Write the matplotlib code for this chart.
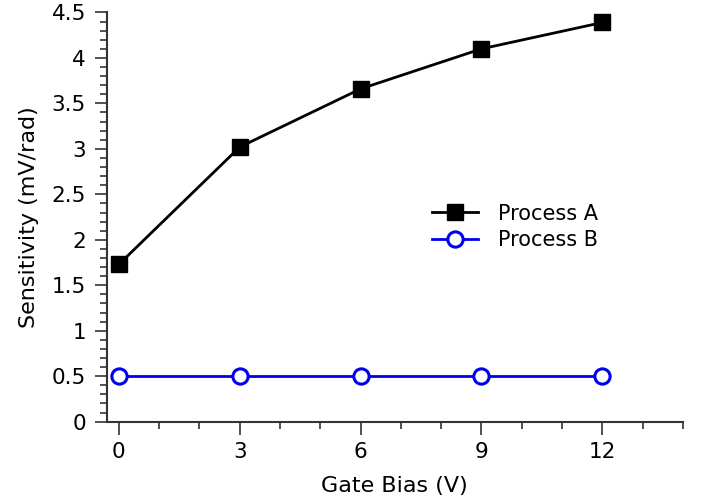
import matplotlib
matplotlib.use("Agg")
import matplotlib.pyplot as plt
from matplotlib.ticker import MultipleLocator, FormatStrFormatter

gate_bias = [0, 3, 6, 9, 12]
process_a = [1.73, 3.02, 3.66, 4.10, 4.39]
process_b = [0.5, 0.5, 0.5, 0.5, 0.5]
series_names = ["Process A", "Process B"]

fig = plt.figure(figsize=(7.07, 4.99), dpi=100)
ax = fig.add_axes([0.151, 0.155, 0.815, 0.82])

ax.plot(gate_bias, process_a, color="black", lw=2.0, marker="s", ms=11,
        mfc="black", mec="black", label=series_names[0], clip_on=False, zorder=3)
ax.plot(gate_bias, process_b, color="#0000ee", lw=2.0, marker="o", ms=11,
        mfc="white", mec="#0000ee", mew=2.2, label=series_names[1], clip_on=False, zorder=3)

ax.set_xlim(-0.3, 14)
ax.set_ylim(0, 4.5)
ax.xaxis.set_major_locator(MultipleLocator(3))
ax.xaxis.set_minor_locator(MultipleLocator(1))
ax.yaxis.set_major_locator(MultipleLocator(0.5))
ax.yaxis.set_minor_locator(MultipleLocator(0.1))
ax.yaxis.set_major_formatter(FormatStrFormatter("%g"))

for side in ("top", "right"):
    ax.spines[side].set_visible(False)
for side in ("left", "bottom"):
    ax.spines[side].set_color("#333333")
    ax.spines[side].set_linewidth(1.5)

ax.tick_params(which="major", direction="out", length=9, width=1.2, color="#333333",
               labelsize=15.5, pad=6)
ax.tick_params(which="minor", direction="out", length=5, width=1.2, color="#333333")

ax.set_xlabel("Gate Bias (V)", fontsize=16, labelpad=10)
ax.set_ylabel("Sensitivity (mV/rad)", fontsize=16, labelpad=9)

ax.legend(loc="center left", bbox_to_anchor=(0.564, 0.476), frameon=False, fontsize=15,
          handlelength=2.2, handletextpad=1.0, labelspacing=0.3, borderaxespad=0,
          borderpad=0)

fig.savefig("out.png", dpi=100)
